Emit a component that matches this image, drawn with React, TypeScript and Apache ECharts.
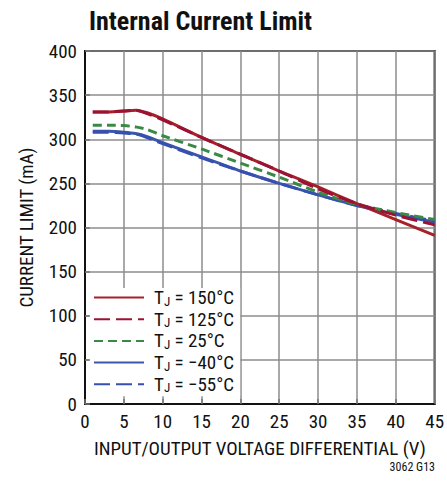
import React, { useEffect, useRef } from "react";
import * as echarts from "echarts";

const FONT = "'Roboto Condensed', 'Liberation Sans', Arial, sans-serif";

const seriesNames = ["150°C", "125°C", "25°C", "−40°C", "−55°C"];
const xValues = [1, 3, 5, 6.5, 8, 10, 15, 20, 25, 30, 35, 40, 45];
const t150 = [331, 331, 332, 333, 330, 323, 302, 283, 264, 246, 227, 209, 191];
const t125 = [331, 331, 332, 333, 329, 322, 302, 283, 264, 244, 227, 214, 203];
const t25 = [316, 316, 315.5, 314, 311, 304, 289, 273, 257, 240, 226, 217, 209];
const tm40 = [309, 309, 308, 306.5, 303, 296, 280, 264, 250, 237, 225, 215, 206];
const tm55 = [308, 308, 307, 306, 302, 295, 279, 264, 250, 237, 225, 216, 207];

const colors = ["#a5222a", "#9b1232", "#3a8a45", "#3b56aa", "#3550b0"];
const dashes: any[] = ["solid", [16, 6], [9, 5], "solid", [16, 6]];
const values = [t150, t125, t25, tm40, tm55];

export default function App() {
  const ref = useRef<HTMLDivElement>(null);
  useEffect(() => {
    if (!ref.current) return;
    const chart = echarts.init(ref.current, null, { renderer: "svg" });
    const mk = (i: number) => ({
      name: seriesNames[i],
      type: "line",
      xAxisIndex: 0,
      yAxisIndex: 0,
      data: xValues.map((x, k) => [x, values[i][k]]),
      showSymbol: false,
      symbol: "none",
      smooth: 0.25,
      z: 3,
      lineStyle: { color: colors[i], width: 3, type: dashes[i] },
      itemStyle: { color: colors[i] },
    });
    const drawOrder = [3, 4, 2, 0, 1];
    chart.setOption({
      animation: false,
      backgroundColor: "#ffffff",
      title: {
        text: "Internal Current Limit",
        left: 84,
        top: 3,
        textStyle: { fontFamily: FONT, fontSize: 26, fontWeight: "bold", color: "#111" },
      },
      grid: {
        left: 85,
        top: 51,
        right: 11,
        bottom: 82,
        show: true,
        borderColor: "#111",
        borderWidth: 2,
        backgroundColor: "transparent",
      },
      legend: {
        data: seriesNames,
        orient: "vertical",
        left: 89,
        top: 288,
        padding: [0, 6, 2, 4],
        itemWidth: 50,
        itemHeight: 20,
        itemGap: 2.2,
        backgroundColor: "#ffffff",
        itemStyle: { color: "transparent", borderWidth: 0, opacity: 0 },
        formatter: (n: string) => `{g|}{t|T}{s|J}{t| = ${n}}`,
        textStyle: {
          fontFamily: FONT,
          fontSize: 19,
          color: "#111",
          rich: {
            g: { width: 5 },
            t: { fontFamily: FONT, fontSize: 19, color: "#111", lineHeight: 20 },
            s: { fontFamily: FONT, fontSize: 13, color: "#111", lineHeight: 12, verticalAlign: "bottom" },
          },
        },
      },
      xAxis: [
        {
          type: "value",
          min: 0,
          max: 45,
          interval: 5,
          name: "INPUT/OUTPUT VOLTAGE DIFFERENTIAL (V)",
          nameLocation: "middle",
          nameGap: 35,
          nameTextStyle: { fontFamily: FONT, fontSize: 19, color: "#111" },
          axisLine: { show: true, lineStyle: { color: "#111", width: 2 } },
          axisTick: { show: false },
          axisLabel: { fontFamily: FONT, fontSize: 19, color: "#111", margin: 8 },
          splitLine: { show: true, lineStyle: { color: "#8c8c8c", width: 1.5 } },
        },
        {
          type: "value",
          min: 0,
          max: 45,
          interval: 5,
          position: "bottom",
          z: 6,
          axisLine: { show: false },
          axisTick: { show: true, inside: true, length: 5, lineStyle: { color: "#777", width: 1.5 } },
          axisLabel: { show: false },
          splitLine: { show: false },
        },
      ],
      yAxis: [
        {
          type: "value",
          min: 0,
          max: 400,
          interval: 50,
          name: "CURRENT LIMIT (mA)",
          nameLocation: "middle",
          nameGap: 49,
          nameTextStyle: { fontFamily: FONT, fontSize: 19, color: "#111" },
          axisLine: { show: true, lineStyle: { color: "#111", width: 2 } },
          axisTick: { show: false },
          axisLabel: { fontFamily: FONT, fontSize: 19, color: "#111", margin: 8 },
          splitLine: { show: true, lineStyle: { color: "#8c8c8c", width: 1.5 } },
        },
        {
          type: "value",
          min: 0,
          max: 400,
          interval: 50,
          position: "left",
          z: 6,
          axisLine: { show: false },
          axisTick: { show: true, inside: true, length: 5, lineStyle: { color: "#777", width: 1.5 } },
          axisLabel: { show: false },
          splitLine: { show: false },
        },
      ],
      graphic: [
        {
          type: "text",
          right: 12,
          top: 461,
          style: { text: "3062 G13", fontFamily: FONT, fontSize: 12, fill: "#111" },
        },
      ],
      series: drawOrder.map(mk),
    });
    return () => chart.dispose();
  }, []);
  return <div ref={ref} style={{ width: 447, height: 486, position: "absolute", left: 0, top: 0 }} />;
}
